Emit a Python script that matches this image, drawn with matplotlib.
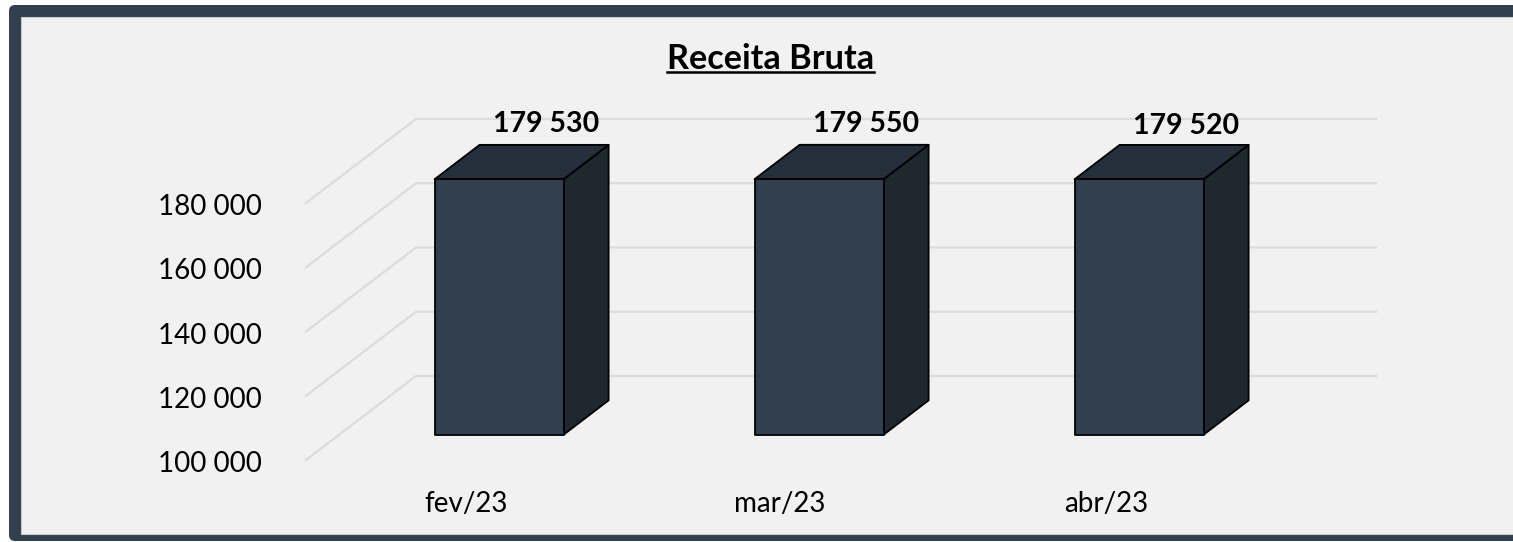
import matplotlib
matplotlib.use("Agg")
import matplotlib.pyplot as plt
from matplotlib.patches import FancyBboxPatch, Polygon, Rectangle
from matplotlib.transforms import ScaledTranslation

plt.rcParams['font.family'] = ['Lato', 'DejaVu Sans']

months = ['fev/23', 'mar/23', 'abr/23']
receita = [179530, 179550, 179520]
receita_labels = ['179 530', '179 550', '179 520']
y_ticks = [100000, 120000, 140000, 160000, 180000]
y_tick_labels = ['100 000', '120 000', '140 000', '160 000', '180 000']

W, H = 1513, 542
DARK = '#323f4f'
TOP = '#252f3b'
SIDE = '#20282f'
GRID = '#dcdcdc'

# fake 3d: depth 0 is the front of the floor, depth 1 the back wall
DX = 110 / 320
DY = 84 / 257 * 80000
BAR_W = 129 / 320
D_FRONT, D_BACK = 0.30, 0.71


def proj(x, v, d):
    return x + d * DX, v + d * DY


fig = plt.figure(figsize=(W / 100, H / 100), dpi=100, facecolor='white')

# frame
fig.add_artist(FancyBboxPatch((9 / W, 1 - 541 / H), 1600 / W, 536 / H,
                              boxstyle='round,pad=0,rounding_size=0.004',
                              mutation_aspect=W / H, transform=fig.transFigure,
                              fc=DARK, ec='none', clip_on=False, zorder=-2))
fig.add_artist(Rectangle((21 / W, 1 - 534 / H), 1600 / W, 517 / H,
                         transform=fig.transFigure, fc='#f1f1f1', ec='#c8ccd0',
                         lw=0.8, zorder=-1))

ax = fig.add_axes([306 / W, 1 - 460 / H, 960 / W, 257 / H])
ax.patch.set_visible(False)
ax.set_xlim(-0.5, 2.5)
ax.set_ylim(100000, 180000)
for s in ax.spines.values():
    s.set_visible(False)

ax.set_yticks(y_ticks)
ax.set_yticklabels(y_tick_labels, fontsize=20, color='black')
ax.tick_params(axis='y', length=0, pad=32)
ax.set_xticks([])
nudge = ScaledTranslation(0, -1.5 / 100, fig.dpi_scale_trans)
for lab in ax.get_yticklabels():
    lab.set_transform(lab.get_transform() + nudge)

# gridlines: side wall then back wall
for v in y_ticks:
    xs = [-0.5, proj(-0.5, v, 1)[0], proj(2.5, v, 1)[0]]
    ys = [v, proj(-0.5, v, 1)[1], proj(2.5, v, 1)[1]]
    ax.plot(xs, ys, color=GRID, lw=1.6, clip_on=False, zorder=1)

# bars
label_offsets = [(2, -3), (2, -3), (2, -5)]
xlabel_shift = [0, -6, 0]
for i, v in enumerate(receita):
    x0, x1 = i - BAR_W / 2, i + BAR_W / 2
    front = [proj(x0, 100000, D_FRONT), proj(x1, 100000, D_FRONT),
             proj(x1, v, D_FRONT), proj(x0, v, D_FRONT)]
    side = [proj(x1, 100000, D_FRONT), proj(x1, 100000, D_BACK),
            proj(x1, v, D_BACK), proj(x1, v, D_FRONT)]
    top = [proj(x0, v, D_FRONT), proj(x1, v, D_FRONT),
           proj(x1, v, D_BACK), proj(x0, v, D_BACK)]
    for pts, col in [(side, SIDE), (top, TOP), (front, DARK)]:
        ax.add_patch(Polygon(pts, closed=True, fc=col, ec='black', lw=1.3,
                             joinstyle='round', clip_on=False, zorder=3))
    ax.annotate(receita_labels[i], xy=proj(i, v, D_BACK), xycoords='data',
                xytext=(label_offsets[i][0] * 0.72, 8 + label_offsets[i][1] * 0.72),
                textcoords='offset points', ha='center', va='bottom',
                fontsize=20.5, fontweight='bold', color='black', zorder=4,
                annotation_clip=False)
    ax.annotate(months[i], xy=(i, 100000), xycoords='data',
                xytext=(xlabel_shift[i] * 0.72, -22), textcoords='offset points',
                ha='center', va='top', fontsize=20, color='black',
                annotation_clip=False)

title = fig.text(770.5 / W, 1 - 59 / H, 'Receita Bruta', ha='center', va='center',
                 fontsize=24.7, fontweight='bold', color='black')
fig.canvas.draw()
bb = title.get_window_extent()
fig.add_artist(plt.Line2D([bb.x0 / W, bb.x1 / W], [1 - 72 / H, 1 - 72 / H],
                          transform=fig.transFigure, color='black', lw=1.8))

fig.savefig('out.png', dpi=100, facecolor=fig.get_facecolor())
